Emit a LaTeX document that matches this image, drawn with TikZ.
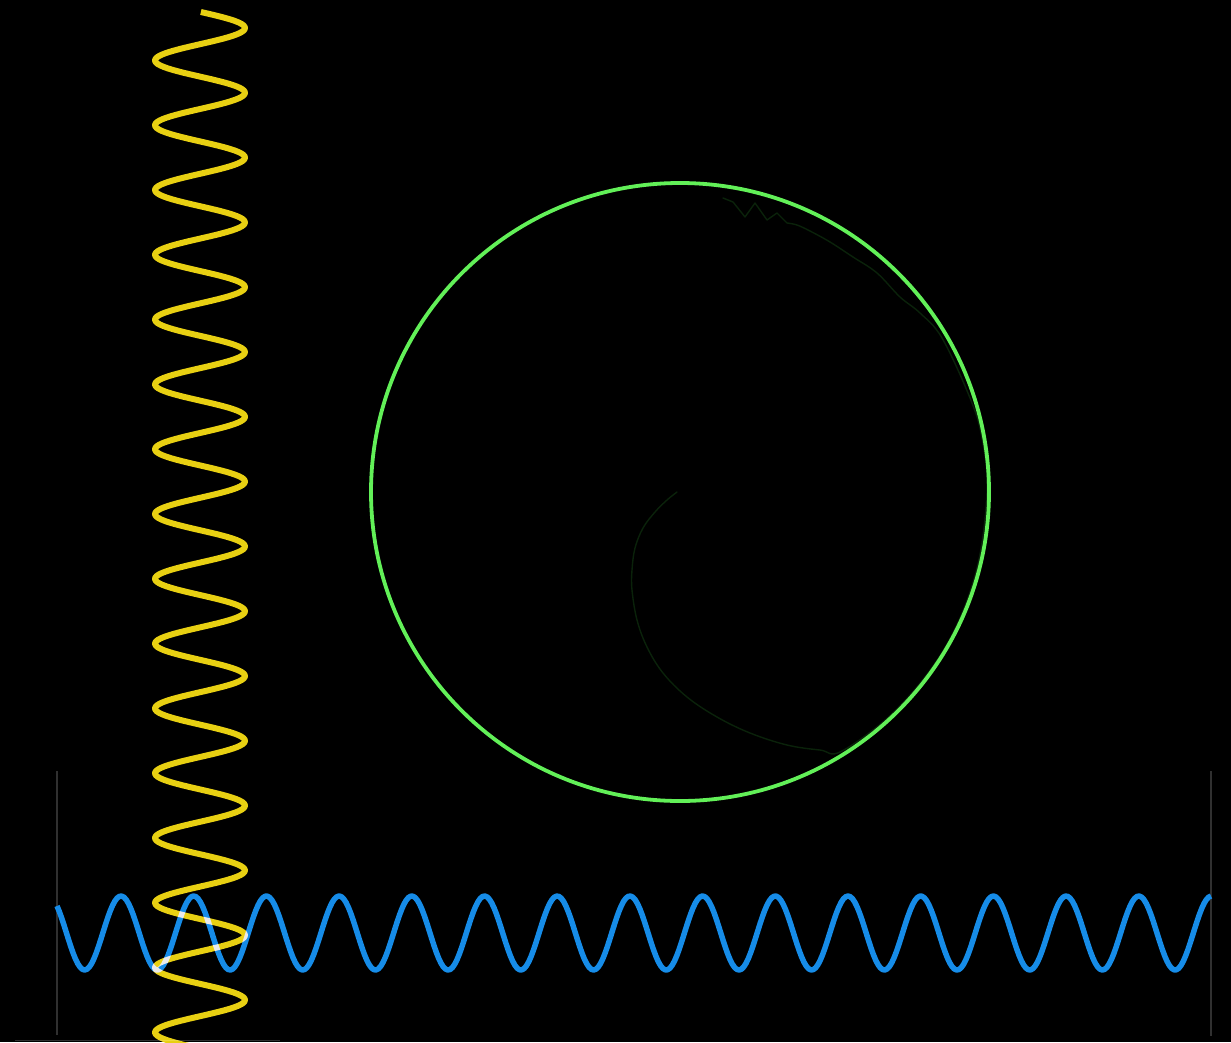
\documentclass[tikz,border=0pt]{standalone}
\begin{document}
\begin{tikzpicture}[x=1pt,y=-1pt,
  guide/.style={draw={rgb,255:red,48;green,48;blue,48}, line width=1.2pt},
  ringline/.style={draw={rgb,255:red,98;green,240;blue,88}, line width=3.8pt},
  trace/.style={draw={rgb,255:red,10;green,34;blue,10}, line width=1.4pt, line join=round, line cap=round},
  bluewave/.style={draw={rgb,255:red,22;green,140;blue,232}, line width=5.5pt, line join=round},
  yellowwave/.style={draw={rgb,255:red,232;green,208;blue,18}, line width=6pt, line join=round}]
\fill[black] (0,0) rectangle (1231,1042);
\useasboundingbox (0,0) rectangle (1231,1042);
\begin{scope}
\clip (0,0) rectangle (1231,1042);
% faint guide lines
\draw[guide] (57,771) -- (57,1035);
\draw[guide] (1211,771) -- (1211,1036);
\draw[guide] (15,1040.5) -- (280,1040.5);
% faint spiral trace (drawn below the circle)
\draw[trace] plot[smooth, tension=0.6] coordinates {
 (677,492) (667,500) (655,512) (643,528) (635,548) (632,570) (632,590)
 (637,620) (647,647) (663,673) (687,697) (717,717) (750,733) (787,745)
 (820,750) (842,751) (897,709) (946,646) (976,572) (987,492)
 (982,438) (970,398) (942,338) (920,313) (900,297) (877,273) (853,257)
 (830,242) (810,231) (797,225) (787,223)}
 -- (777,213) -- (767,220) -- (755,203) -- (745,217) -- (733,202) -- (723,198);
% green circle
\coordinate (c) at (680,492);
\draw[ringline] (c) circle[radius=309];
% blue horizontal wave
\draw[bluewave] plot[domain=57:1211, samples=500, variable=\x]
  (\x, {933 - 37*cos(4.95186*(\x-121))});
% yellow vertical wave
\begin{scope}[blend mode=screen]
\draw[yellowwave] plot[domain=12:1052, samples=700, variable=\y]
  ({200 + 45*cos(5.55556*(\y-28))}, \y);
\end{scope}
\end{scope}
\end{tikzpicture}
\end{document}
